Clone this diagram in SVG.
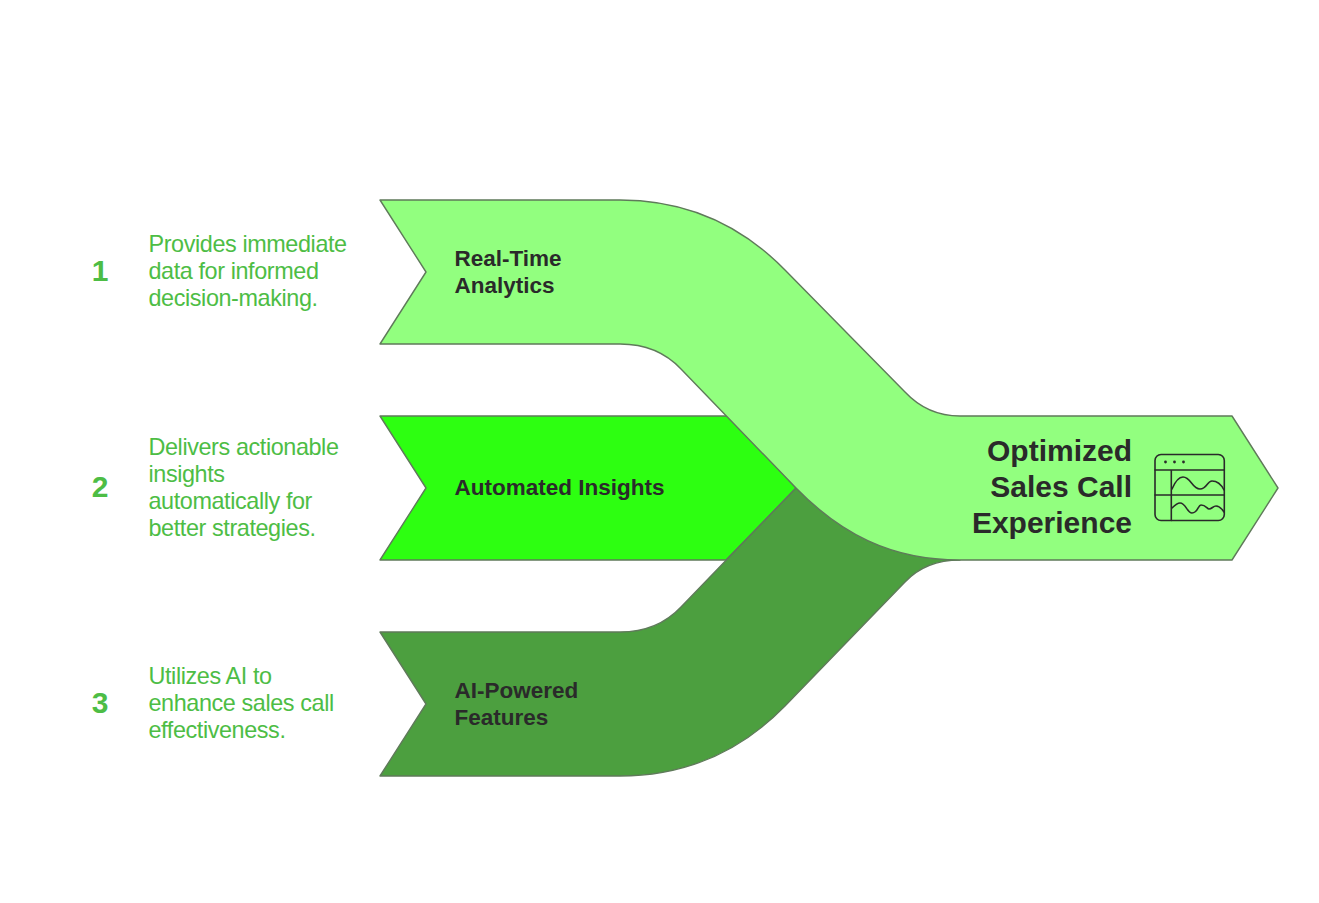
<svg xmlns="http://www.w3.org/2000/svg" width="1319" height="903" viewBox="0 0 1319 903">
<style>
.band{stroke:#5f7a5a;stroke-width:1.4;stroke-linejoin:round}
.desc{font:23.4px "Liberation Sans",Arial,sans-serif;fill:#4dbd45;letter-spacing:-.4px}
.num{font:bold 30px "Liberation Sans",Arial,sans-serif;fill:#4dbd45;text-anchor:middle}
.lab{font:bold 22.5px "Liberation Sans",Arial,sans-serif;fill:#2a2a2a}
.title{font:bold 30px "Liberation Sans",Arial,sans-serif;fill:#2a2a2a;text-anchor:end}
.ic{fill:none;stroke:#2a2a2a;stroke-width:1.6;stroke-linecap:round;stroke-linejoin:round}
</style>
<rect width="1319" height="903" fill="#fff"/>
<g id="connectors">
<path id="band-2" class="band" fill="#2dff11" d="M380,416H730L796,488L726,560H380L426,488Z"/>
<path id="band-3" class="band" fill="#4c9f3f" d="M380,632H620C645,632 665,624 681,607L796,488L960,560C938,560 920,566 905,582L785,706C740,752 685,776 620,776H380L426,704Z"/>
<path id="band-1" class="band" fill="#92ff7f" d="M380,200H620C685,200 740,224 785,270L905,392C920,408 938,416 960,416H1232L1278,488L1232,560H960C890,560 840,533 796,488L681,369C665,352 645,344 620,344H380L426,272Z"/>
</g>
<g id="node-1">
<text class="num" x="100" y="281">1</text>
<text class="desc" x="148.5" y="252">Provides immediate</text>
<text class="desc" x="148.5" y="279">data for informed</text>
<text class="desc" x="148.5" y="306">decision-making.</text>
<text class="lab" x="454.5" y="266">Real-Time</text>
<text class="lab" x="454.5" y="293">Analytics</text>
</g>
<g id="node-2">
<text class="num" x="100" y="497">2</text>
<text class="desc" x="148.5" y="455">Delivers actionable</text>
<text class="desc" x="148.5" y="482">insights</text>
<text class="desc" x="148.5" y="509">automatically for</text>
<text class="desc" x="148.5" y="536">better strategies.</text>
<text class="lab" x="454.5" y="495">Automated Insights</text>
</g>
<g id="node-3">
<text class="num" x="100" y="713">3</text>
<text class="desc" x="148.5" y="684">Utilizes AI to</text>
<text class="desc" x="148.5" y="711">enhance sales call</text>
<text class="desc" x="148.5" y="738">effectiveness.</text>
<text class="lab" x="454.5" y="698">AI-Powered</text>
<text class="lab" x="454.5" y="725">Features</text>
</g>
<g id="node-result">
<text class="title" x="1132" y="461">Optimized</text>
<text class="title" x="1132" y="497">Sales Call</text>
<text class="title" x="1132" y="533">Experience</text>
<g id="icon">
<rect class="ic" x="1155" y="454.5" width="69.3" height="66" rx="6"/>
<path class="ic" d="M1155,470H1224.3M1155,495H1224.3M1171.3,470V520.5"/>
<path class="ic" d="M1172,489C1175,482 1178,477 1183,477C1191,477 1192,489 1200,489C1207,489 1207,481 1212,481C1218,481 1221,484 1224,490"/>
<path class="ic" d="M1172,508C1175,505 1177,503 1180,503C1186,503 1187,513 1192,513C1198,513 1198,505 1201,505C1206,505 1207,509 1209,509C1212,509 1213,506 1216,506C1220,506 1222,509 1224,512"/>
<g fill="#2a2a2a"><circle cx="1165.5" cy="462" r="1.4"/><circle cx="1174.5" cy="462" r="1.4"/><circle cx="1183.5" cy="462" r="1.4"/></g>
</g>
</g>
</svg>
